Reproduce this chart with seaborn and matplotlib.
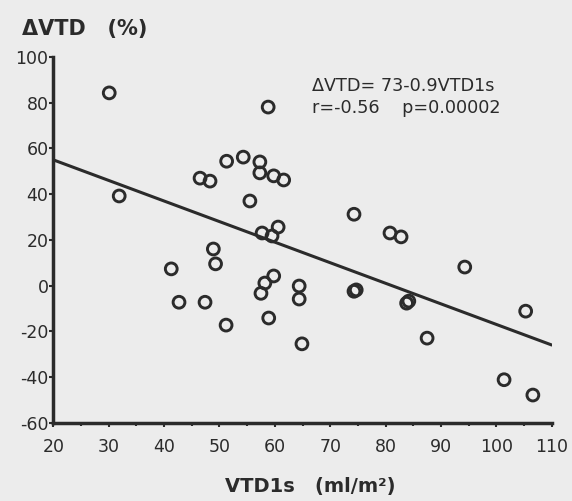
import matplotlib
matplotlib.use("Agg")
import matplotlib.pyplot as plt
import seaborn as sns
import numpy as np
import pandas as pd

# Stroke volume at 1 s (ml/m^2) and change in VTD (%)
vtd1s = [30.1, 31.9, 41.3, 42.7, 47.4, 46.5, 48.3, 48.9, 49.3, 51.3,
         51.2, 54.3, 55.5, 57.3, 57.3, 59.8, 61.6, 58.8, 57.7, 59.5,
         60.6, 57.5, 58.2, 59.8, 58.9, 64.4, 64.4, 64.9, 74.3, 80.8,
         82.8, 94.3, 74.3, 74.7, 83.8, 84.2, 87.5, 105.3, 101.4, 106.6]
delta_vtd = [84.3, 39.2, 7.3, -7.3, -7.3, 47.0, 45.7, 16.0, 9.5, 54.4,
             -17.3, 56.2, 37.0, 54.1, 49.3, 48.0, 46.2, 78.1, 23.0, 21.7,
             25.6, -3.4, 1.1, 4.2, -14.2, -0.2, -5.9, -25.5, 31.2, 23.0,
             21.3, 8.1, -2.5, -1.9, -7.7, -6.8, -23.0, -11.2, -41.2, -47.9]

# Regression line: dVTD = 73 - 0.9 * VTD1s
intercept = 73.0
slope = -0.9
x_ticks = [20, 30, 40, 50, 60, 70, 80, 90, 100, 110]
y_ticks = [-60, -40, -20, 0, 20, 40, 60, 80, 100]

df = pd.DataFrame({"vtd1s": vtd1s, "delta_vtd": delta_vtd})

bg = "#ececec"
ink = "#2b2b2b"

sns.set_theme(style="ticks")
plt.rcParams["font.family"] = ["DejaVu Sans"]
plt.rcParams["axes.unicode_minus"] = False

fig = plt.figure(figsize=(5.72, 5.01), dpi=100, facecolor=bg)
ax = fig.add_axes([0.0932, 0.1563, 0.8713, 0.7299])
ax.set_facecolor(bg)

sns.scatterplot(data=df, x="vtd1s", y="delta_vtd", ax=ax, marker="o",
                s=72, facecolor="none", edgecolor=ink, linewidth=2.1,
                legend=False, zorder=3)

line_x = np.array([20.0, 110.0])
sns.lineplot(x=line_x, y=intercept + slope * line_x, ax=ax, color=ink,
             linewidth=2.2, zorder=2)

ax.set_xlim(20, 110)
ax.set_ylim(-60, 100)
ax.set_xticks(x_ticks)
ax.set_yticks(y_ticks)
ax.set_xticks(np.arange(25, 110, 10), minor=True)
ax.tick_params(axis="both", which="major", direction="out", length=3,
               width=1.5, color=ink, labelcolor=ink, labelsize=12.5)
ax.tick_params(axis="x", which="minor", direction="out", length=2.5,
               width=1.5, color=ink)
ax.tick_params(axis="x", pad=8)
ax.tick_params(axis="y", pad=0.5)
for side in ("top", "right"):
    ax.spines[side].set_visible(False)
for side in ("left", "bottom"):
    ax.spines[side].set_color(ink)
    ax.spines[side].set_linewidth(2.5)

ax.set_xlabel("")
ax.set_ylabel("")

fig.text(0.038, 0.942, "ΔVTD   (%)", color=ink, fontsize=15,
         fontweight="bold", ha="left", va="center")
fig.text(0.543, 0.028, "VTD1s   (ml/m²)", color=ink, fontsize=14,
         fontweight="bold", ha="center", va="center")

fig.text(0.545, 0.828, "ΔVTD= 73-0.9VTD1s", color=ink, fontsize=12.7,
         ha="left", va="center")
fig.text(0.545, 0.784, "r=-0.56    p=0.00002", color=ink, fontsize=12.7,
         ha="left", va="center")

fig.savefig("out.png", dpi=100, facecolor=bg)
